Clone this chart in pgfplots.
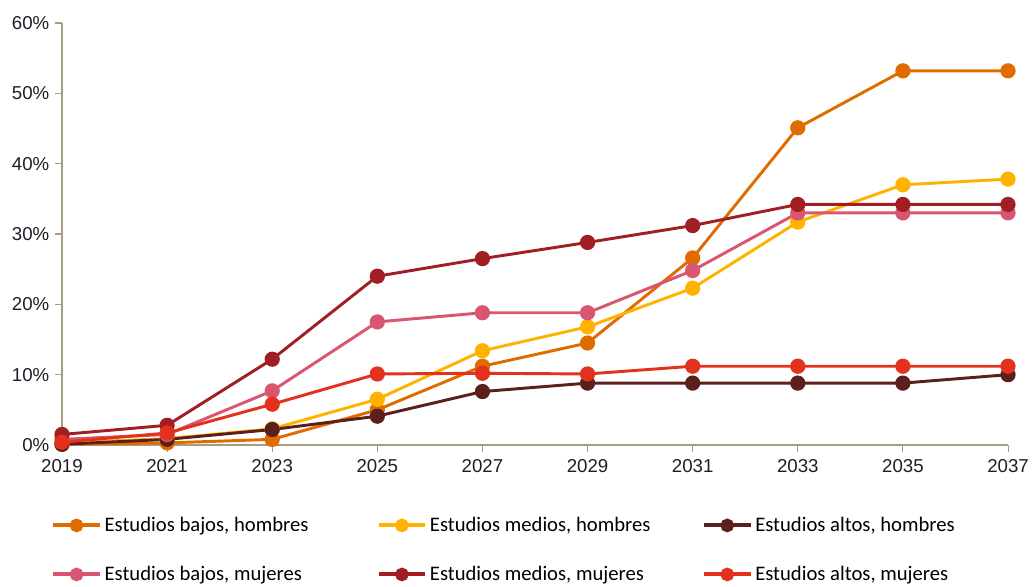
\documentclass[border=0pt]{standalone}
\usepackage{pgfplots}
\pgfplotsset{compat=1.18}
\usepackage{fontspec}
\setmainfont{Liberation Sans}
\newfontfamily\legfont{Carlito}
\definecolor{cBH}{HTML}{E06C00}
\definecolor{cMH}{HTML}{FFB300}
\definecolor{cAH}{HTML}{5B1F1C}
\definecolor{cBM}{HTML}{DA5570}
\definecolor{cMM}{HTML}{A21E25}
\definecolor{cAM}{HTML}{E2311D}
\definecolor{axc}{HTML}{A59C82}
\definecolor{tickc}{HTML}{1E1E28}
\begin{document}
\begin{tikzpicture}
\begin{axis}[
  at={(0pt,0pt)}, anchor=south west,
  scale only axis, width=709.5pt, height=316.5pt,
  xmin=2019, xmax=2037, ymin=0, ymax=60,
  axis lines=left,
  axis line style={-, draw=axc, line width=1pt},
  xtick={2019,2021,...,2037}, ytick={0,10,...,60},
  tick align=outside, major tick length=5pt,
  tick style={draw=axc, line width=0.8pt},
  /pgf/number format/assume math mode=true,
  x tick label style={/pgf/number format/1000 sep={}, yshift=-2pt},
  y tick label style={xshift=-1pt},
  yticklabel={\pgfmathprintnumber{\tick}\%},
  ticklabel style={font=\fontsize{14}{16}\selectfont, text=tickc},
  clip=false,
  every axis plot/.append style={line width=2.2pt, mark=*, mark size=4.6pt, mark options={solid}},
  legend columns=3,
  legend cell align=left,
  legend image code/.code={\draw[mark repeat=2,mark phase=2,#1, line width=3pt, mark size=3.6pt] plot coordinates {(0pt,0pt) (17.5pt,0pt) (35pt,0pt)};},
  legend style={at={(0,0)}, anchor=north west, xshift=-8.25pt, yshift=-52pt, draw=none, fill=none,
    font=\legfont\fontsize{15.5}{18}\selectfont, row sep=20.5pt, column sep=0pt, inner sep=0pt},
]
\addplot[color=cBH] coordinates {(2019,0.1) (2021,0.3) (2023,0.8) (2025,5.0) (2027,11.2) (2029,14.5) (2031,26.6) (2033,45.1) (2035,53.2) (2037,53.2)};
\addlegendentry{\makebox[202pt][l]{Estudios bajos, hombres}}
\addplot[color=cMH] coordinates {(2019,0.3) (2021,0.9) (2023,2.3) (2025,6.5) (2027,13.4) (2029,16.8) (2031,22.3) (2033,31.7) (2035,37.0) (2037,37.8)};
\addlegendentry{\makebox[202pt][l]{Estudios medios, hombres}}
\addplot[color=cAH] coordinates {(2019,0.1) (2021,0.8) (2023,2.2) (2025,4.1) (2027,7.6) (2029,8.8) (2031,8.8) (2033,8.8) (2035,8.8) (2037,10.0)};
\addlegendentry{Estudios altos, hombres}
\addplot[color=cBM] coordinates {(2019,0.8) (2021,1.5) (2023,7.7) (2025,17.5) (2027,18.8) (2029,18.8) (2031,24.8) (2033,33.0) (2035,33.0) (2037,33.0)};
\addlegendentry{\makebox[202pt][l]{Estudios bajos, mujeres}}
\addplot[color=cMM] coordinates {(2019,1.5) (2021,2.8) (2023,12.2) (2025,24.0) (2027,26.5) (2029,28.8) (2031,31.2) (2033,34.2) (2035,34.2) (2037,34.2)};
\addlegendentry{\makebox[202pt][l]{Estudios medios, mujeres}}
\addplot[color=cAM] coordinates {(2019,0.4) (2021,1.7) (2023,5.8) (2025,10.1) (2027,10.2) (2029,10.1) (2031,11.2) (2033,11.2) (2035,11.2) (2037,11.2)};
\addlegendentry{Estudios altos, mujeres}
\end{axis}
\pgfresetboundingbox
\path (-46.5pt,-105.75pt) rectangle (727.5pt,333.75pt);
\end{tikzpicture}
\end{document}
